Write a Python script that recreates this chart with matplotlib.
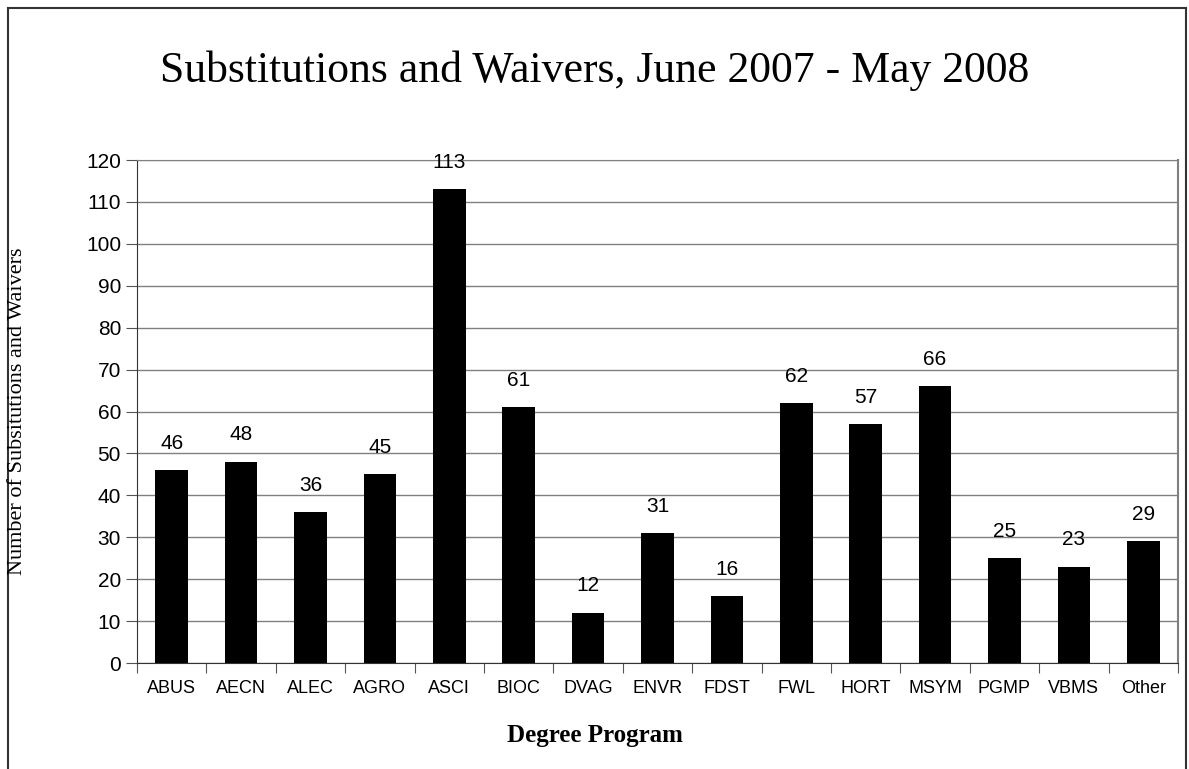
import matplotlib.pyplot as plt
from matplotlib.lines import Line2D
import numpy as np

# data
programs = ['ABUS', 'AECN', 'ALEC', 'AGRO', 'ASCI', 'BIOC', 'DVAG', 'ENVR',
            'FDST', 'FWL', 'HORT', 'MSYM', 'PGMP', 'VBMS', 'Other']
counts = [46, 48, 36, 45, 113, 61, 12, 31, 16, 62, 57, 66, 25, 23, 29]

fig = plt.figure(figsize=(11.89, 7.69), dpi=100)
ax = fig.add_axes([0.1152, 0.1378, 0.8755, 0.6541])

x = np.arange(len(programs))
ax.bar(x, counts, width=0.47, color='black', zorder=3)

# value labels above bars
for xi, c in zip(x, counts):
    ax.annotate(str(c), (xi, c), xytext=(0, 12.5), textcoords='offset points',
                ha='center', va='bottom', fontsize=15, family='Liberation Sans')

ax.set_xlim(-0.5, len(programs) - 0.5)
ax.set_ylim(0, 120)
ax.set_yticks(range(0, 121, 10))
ax.yaxis.grid(True, color='#808080', linewidth=1, zorder=0)

# x ticks sit between categories, labels centered under bars
ax.set_xticks(np.arange(-0.5, len(programs), 1.0))
ax.set_xticklabels([])
ax.set_xticks(x, minor=True)
ax.set_xticklabels(programs, minor=True, fontsize=13, family='Liberation Sans')
ax.tick_params(axis='x', which='minor', length=0, pad=12)
ax.tick_params(axis='x', which='major', length=7, direction='out', color='#555555')
ax.tick_params(axis='y', length=8, direction='out', labelsize=15, color='#555555')
for lbl in ax.get_yticklabels():
    lbl.set_family('Liberation Sans')

ax.spines['top'].set_color('#808080')
ax.spines['right'].set_color('#808080')
ax.spines['right'].set_linewidth(1.5)
ax.spines['left'].set_color('#333333')
ax.spines['bottom'].set_color('#333333')

fig.text(18 / 1189, 1 - 411 / 769, 'Number of Subsitutions and Waivers', rotation=90,
         ha='center', va='center', fontsize=16, family='Liberation Serif')
fig.text(0.5, 0.044, 'Degree Program', ha='center', va='center',
         fontsize=18, fontweight='bold', family='Liberation Serif')
fig.text(0.5, 0.908, 'Substitutions and Waivers, June 2007 - May 2008',
         ha='center', va='center', fontsize=31.5, family='Liberation Serif')

# outer border (left, top, right)
bx0, bx1, by1 = 8 / 1189, 1186 / 1189, 1 - 8 / 769
for xs, ys in [([bx0, bx0], [0, by1]), ([bx0, bx1], [by1, by1]), ([bx1, bx1], [by1, 0])]:
    fig.add_artist(Line2D(xs, ys, color='#333333', linewidth=1.5,
                          transform=fig.transFigure))

fig.savefig('out.png', dpi=100)
